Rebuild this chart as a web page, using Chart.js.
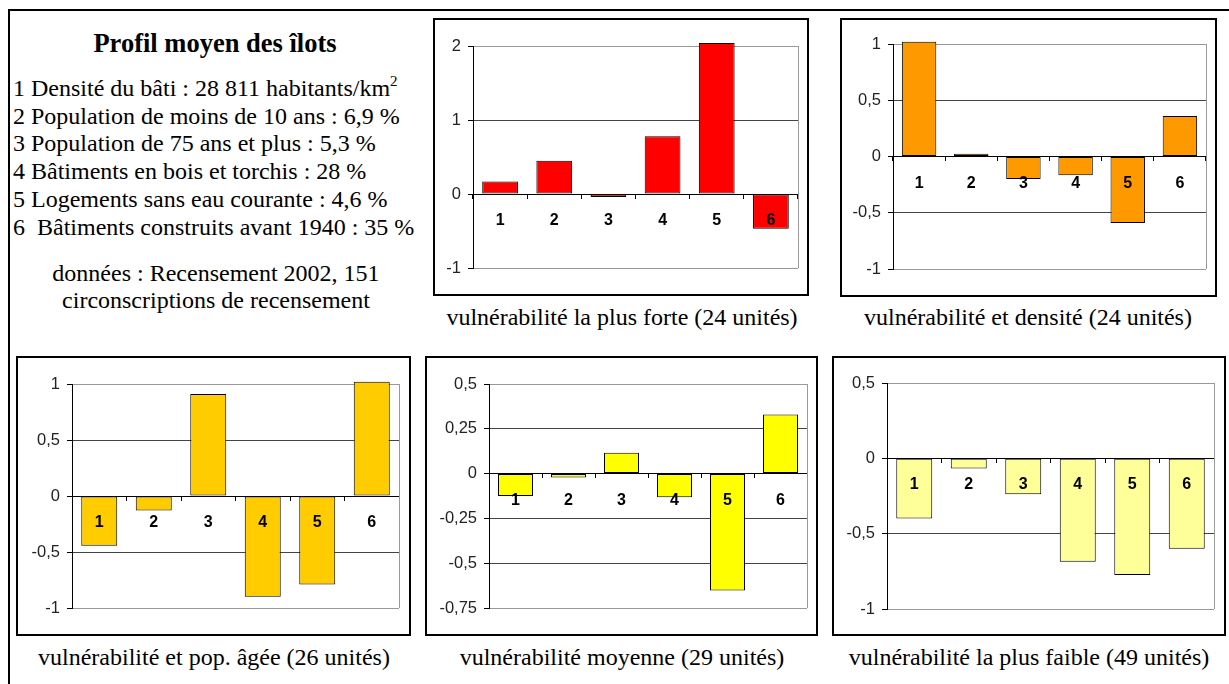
<!DOCTYPE html>
<html>
<head>
<meta charset="utf-8">
<script src="https://cdn.jsdelivr.net/npm/chart.js@4.4.0/dist/chart.umd.min.js"></script>
<style>
body { margin: 0; background: #fff; width: 1229px; height: 684px; overflow: hidden; position: relative; font-family: 'Liberation Serif', 'Times New Roman', serif; color: #000; }
.frame { position: absolute; left: 8px; top: 9px; width: 1240px; height: 690px; border-left: 2px solid #000; border-top: 2px solid #000; }
.box { position: absolute; border: 2px solid #000; box-sizing: border-box; background: #fff; }
.box canvas { position: absolute; left: 0; top: 0; }
.cap { position: absolute; width: 500px; text-align: center; font-size: 24px; line-height: 28px; white-space: nowrap; }
.ptitle { position: absolute; left: 0; width: 430px; top: 28px; text-align: center; font-weight: bold; font-size: 26.5px; line-height: 30px; white-space: nowrap; }
.plines { position: absolute; left: 13px; top: 75px; font-size: 24px; line-height: 27.7px; white-space: nowrap; }
.plines sup { font-size: 15px; line-height: 0; vertical-align: 10px; }
.psrc { position: absolute; left: 0; width: 432px; top: 260px; text-align: center; font-size: 24px; line-height: 27px; white-space: nowrap; }
</style>
</head>
<body>
<div class="frame"></div>

<div class="ptitle">Profil moyen des îlots</div>
<div class="plines">
1 Densité du bâti : 28 811 habitants/km<sup>2</sup><br>
2 Population de moins de 10 ans : 6,9 %<br>
3 Population de 75 ans et plus : 5,3 %<br>
4 Bâtiments en bois et torchis : 28 %<br>
5 Logements sans eau courante : 4,6 %<br>
6&nbsp; Bâtiments construits avant 1940 : 35 %
</div>
<div class="psrc">données : Recensement 2002, 151<br>circonscriptions de recensement</div>

<div id="charts"></div>

<script>
// categories = variables du profil (1 à 6)
const categories = ['1', '2', '3', '4', '5', '6'];

// écarts au profil moyen
const valuesForte = [0.17, 0.45, -0.04, 0.78, 2.04, -0.47];
const valuesDensite = [1.02, 0.024, -0.20, -0.166, -0.59, 0.36];
const valuesAgee = [-0.445, -0.13, 0.91, -0.90, -0.79, 1.02];
const valuesMoyenne = [-0.125, -0.022, 0.116, -0.132, -0.653, 0.33];
const valuesFaible = [-0.40, -0.068, -0.238, -0.687, -0.775, -0.60];

// graduations de l'axe vertical
const ticksForte = [-1, 0, 1, 2];
const ticksDensite = [-1, -0.5, 0, 0.5, 1];
const ticksAgee = [-1, -0.5, 0, 0.5, 1];
const ticksMoyenne = [-0.75, -0.5, -0.25, 0, 0.25, 0.5];
const ticksFaible = [-1, -0.5, 0, 0.5];

const captions = [
    'vulnérabilité la plus forte (24 unités)',
    'vulnérabilité et densité (24 unités)',
    'vulnérabilité et pop. âgée (26 unités)',
    'vulnérabilité moyenne (29 unités)',
    'vulnérabilité la plus faible (49 unités)'
];

Chart.defaults.font.family = "'Liberation Sans', Arial, sans-serif";

// bordure grise à droite de la zone de tracé
const plotBorder = {
    id: 'plotBorder',
    beforeDatasetsDraw(chart) {
        let ctx = chart.ctx;
        let a = chart.chartArea;
        ctx.save();
        ctx.strokeStyle = '#999';
        ctx.lineWidth = 1;
        ctx.beginPath();
        ctx.moveTo(Math.round(a.right) + 0.5, a.top);
        ctx.lineTo(Math.round(a.right) + 0.5, a.bottom);
        ctx.stroke();
        ctx.restore();
    }
};

function makeChart(values, ticks, color, caption, box, plot, capX, capY) {
    let holder = document.getElementById('charts');
    let div = document.createElement('div');
    div.className = 'box';
    div.style.left = box[0] + 'px';
    div.style.top = box[1] + 'px';
    div.style.width = (box[2] - box[0]) + 'px';
    div.style.height = (box[3] - box[1]) + 'px';
    let canvas = document.createElement('canvas');
    let w = box[2] - box[0] - 4;
    let h = box[3] - box[1] - 4;
    canvas.width = w;
    canvas.height = h;
    canvas.style.width = w + 'px';
    canvas.style.height = h + 'px';
    div.appendChild(canvas);
    holder.appendChild(div);

    let cap = document.createElement('div');
    cap.className = 'cap';
    cap.textContent = caption;
    cap.style.left = (capX - 250) + 'px';
    cap.style.top = capY + 'px';
    holder.appendChild(cap);

    let innerL = box[0] + 2, innerT = box[1] + 2;
    let yWidth = plot[0] - innerL;
    let lo = ticks[0], hi = ticks[ticks.length - 1];

    new Chart(canvas, {
        type: 'bar',
        data: {
            labels: categories,
            datasets: [{
                data: values,
                backgroundColor: color,
                borderColor: '#000',
                borderWidth: 1,
                borderSkipped: false,
                barPercentage: 0.66,
                categoryPercentage: 1,
                clip: false
            }]
        },
        options: {
            responsive: false,
            animation: false,
            devicePixelRatio: 1,
            layout: {
                padding: {
                    left: 0,
                    top: plot[1] - innerT,
                    right: innerL + w - plot[2],
                    bottom: innerT + h - plot[3]
                }
            },
            plugins: {
                legend: { display: false },
                tooltip: { enabled: false }
            },
            scales: {
                x: {
                    position: { y: 0 },
                    grid: { drawOnChartArea: false, color: '#000', tickLength: 4 },
                    border: { color: '#000', width: 1 },
                    ticks: {
                        z: 1,
                        color: '#000',
                        padding: 13,
                        maxRotation: 0,
                        font: { size: 16, weight: 'bold' }
                    }
                },
                y: {
                    min: lo,
                    max: hi,
                    afterBuildTicks: function (s) {
                        s.ticks = ticks.map(v => ({ value: v }));
                    },
                    afterFit: function (s) {
                        s.width = yWidth;
                    },
                    grid: {
                        color: c => (c.tick && (c.tick.value === hi || c.tick.value === lo)) ? '#999' : '#444',
                        tickColor: '#000',
                        tickLength: 5
                    },
                    border: { color: '#000', width: 1 },
                    ticks: {
                        color: '#222',
                        padding: 7,
                        font: { size: 16.5 },
                        callback: v => String(v).replace('.', ',')
                    }
                }
            }
        },
        plugins: [plotBorder]
    });
}

makeChart(valuesForte, ticksForte, '#FF0000', captions[0], [433, 18, 809, 296], [473, 46, 798, 268], 622, 303);
makeChart(valuesDensite, ticksDensite, '#FF9900', captions[1], [840, 18, 1217, 297], [893, 44, 1206, 269], 1028, 303);
makeChart(valuesAgee, ticksAgee, '#FFCC00', captions[2], [16, 356, 411, 636], [72, 384, 399, 608], 214, 643);
makeChart(valuesMoyenne, ticksMoyenne, '#FFFF00', captions[3], [425, 356, 818, 636], [489, 384, 807, 608], 622, 643);
makeChart(valuesFaible, ticksFaible, '#FFFF99', captions[4], [832, 356, 1226, 636], [887, 383, 1214, 609], 1029, 643);
</script>
</body>
</html>
